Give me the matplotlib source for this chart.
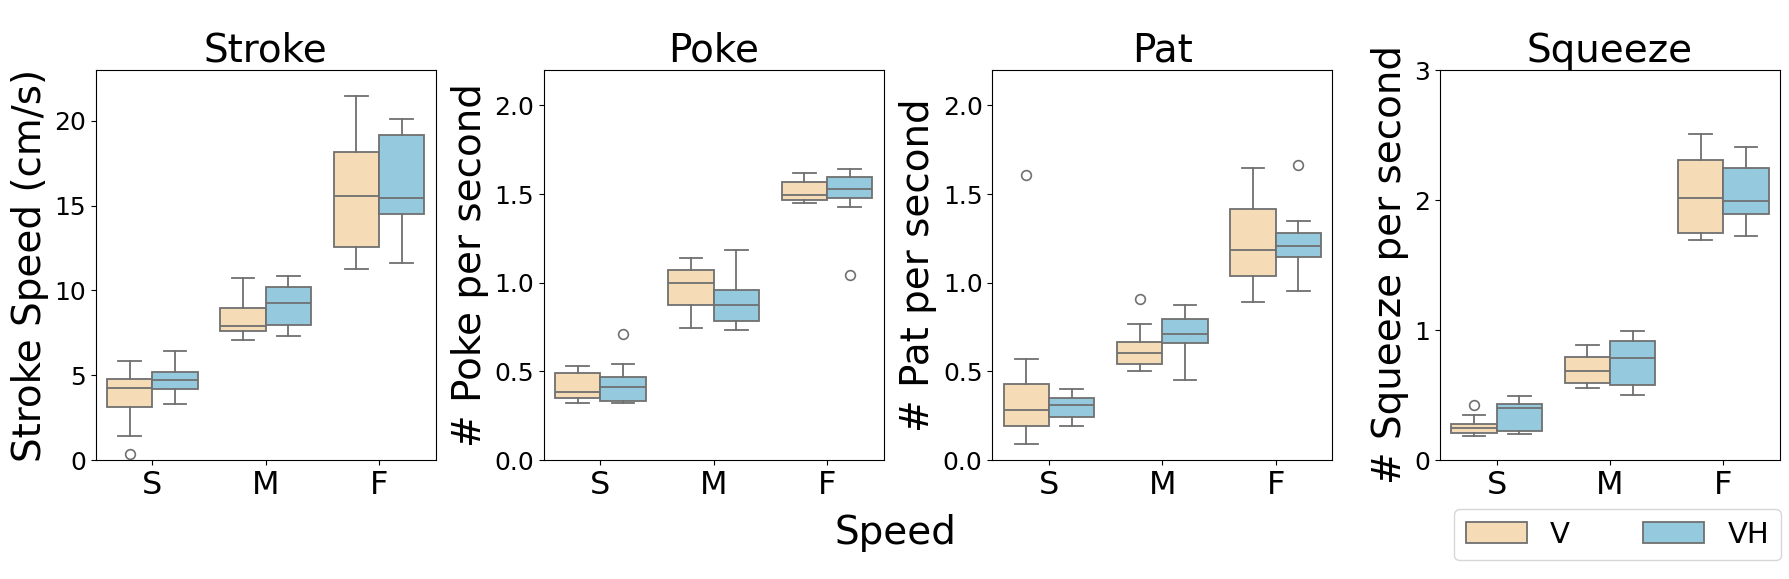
import numpy as np
import matplotlib
matplotlib.use("Agg")
import matplotlib.pyplot as plt
import seaborn as sns
from matplotlib.patches import Patch

# stats: [S, M, F] per group
speeds = ["S", "M", "F"]
groups = ["V", "VH"]
titles = ["Stroke", "Poke", "Pat", "Squeeze"]
ylabels = ["Stroke Speed (cm/s)", "# Poke per second", "# Pat per second", "# Squeeze per second"]
ylims = [23, 2.2, 2.2, 3]

# each entry: (whislo, q1, median, q3, whishi, fliers)
stroke_V = [(1.41, 3.12, 4.23, 4.80, 5.82, [0.35]),
            (7.06, 7.60, 7.90, 8.94, 10.76, []),
            (11.29, 12.59, 15.59, 18.18, 21.47, [])]
stroke_VH = [(3.31, 4.18, 4.70, 5.21, 6.41, []),
             (7.31, 7.94, 9.24, 10.18, 10.88, []),
             (11.59, 14.49, 15.45, 19.16, 20.12, [])]
poke_V = [(0.319, 0.347, 0.381, 0.488, 0.528, []),
          (0.742, 0.877, 1.000, 1.072, 1.140, []),
          (1.447, 1.468, 1.496, 1.567, 1.620, [])]
poke_VH = [(0.319, 0.332, 0.409, 0.469, 0.541, [0.708]),
           (0.731, 0.782, 0.877, 0.961, 1.186, []),
           (1.430, 1.480, 1.531, 1.597, 1.640, [1.042])]
pat_V = [(0.088, 0.190, 0.282, 0.426, 0.567, [1.609]),
         (0.500, 0.541, 0.602, 0.664, 0.770, [0.911]),
         (0.889, 1.036, 1.182, 1.418, 1.648, [])]
pat_VH = [(0.190, 0.240, 0.308, 0.347, 0.398, []),
          (0.450, 0.659, 0.709, 0.793, 0.877, []),
          (0.951, 1.143, 1.205, 1.278, 1.351, [1.665])]
squeeze_V = [(0.183, 0.209, 0.244, 0.276, 0.345, [0.424]),
             (0.554, 0.594, 0.684, 0.792, 0.885, []),
             (1.696, 1.749, 2.017, 2.308, 2.505, [])]
squeeze_VH = [(0.199, 0.223, 0.400, 0.429, 0.490, []),
              (0.501, 0.578, 0.785, 0.914, 0.991, []),
              (1.725, 1.895, 1.996, 2.248, 2.404, [])]

panels = [(stroke_V, stroke_VH), (poke_V, poke_VH), (pat_V, pat_VH), (squeeze_V, squeeze_VH)]

colors = [sns.desaturate("navajowhite", 0.75), sns.desaturate("skyblue", 0.75)]
line_c = "#707070"

fig = plt.figure(figsize=(17.9, 5.79), dpi=100)
W, H = 1790, 579
lefts = [95.7, 543.7, 992.3, 1440]

for k, (vals_v, vals_vh) in enumerate(panels):
    ax = fig.add_axes([lefts[k] / W, 1 - 460 / H, 340 / W, 390 / H])
    for g, vals in enumerate([vals_v, vals_vh]):
        stats = []
        for lo, q1, med, q3, hi, fl in vals:
            stats.append(dict(whislo=lo, q1=q1, med=med, q3=q3, whishi=hi, fliers=fl))
        pos = np.arange(len(speeds)) + (-0.2 if g == 0 else 0.2)
        ax.bxp(stats, positions=pos, widths=0.4, patch_artist=True, showfliers=True,
               boxprops=dict(facecolor=colors[g], edgecolor=line_c, linewidth=1.3),
               medianprops=dict(color=line_c, linewidth=1.3),
               whiskerprops=dict(color=line_c, linewidth=1.3),
               capprops=dict(color=line_c, linewidth=1.3),
               capwidths=0.2,
               flierprops=dict(marker="o", markerfacecolor="none", markeredgecolor=line_c,
                               markersize=7, markeredgewidth=1.2))
    ax.set_xlim(-0.5, 2.5)
    ax.set_ylim(0, ylims[k])
    ax.set_xticks(range(len(speeds)))
    ax.set_xticklabels(speeds, fontsize=23)
    ax.tick_params(axis="y", labelsize=18)
    if k == 3:
        ax.set_yticks([0, 1, 2, 3])
    ax.set_title(titles[k], fontsize=28)
    ax.set_ylabel(ylabels[k], fontsize=28)

fig.text(0.5, 1 - 533 / H, "Speed", fontsize=28, ha="center", va="center")

handles = [Patch(facecolor=colors[i], edgecolor=line_c, linewidth=1.3) for i in range(2)]
fig.legend(handles, groups, loc="upper right", bbox_to_anchor=(1781 / W, 1 - 509 / H),
           borderaxespad=0, ncol=2, fontsize=21, handlelength=2.1, handleheight=0.75,
           columnspacing=2.5, frameon=True)

fig.savefig("out.png", dpi=100)
